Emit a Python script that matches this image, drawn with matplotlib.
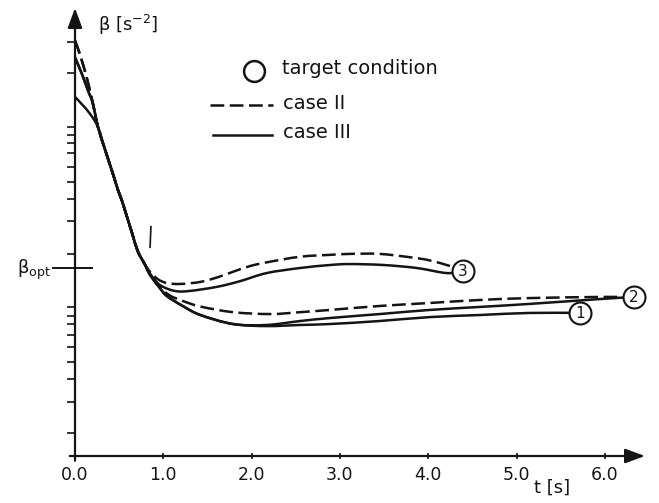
import matplotlib
matplotlib.use("Agg")
import matplotlib.pyplot as plt
import numpy as np
from matplotlib.lines import Line2D
from matplotlib.path import Path
from matplotlib.patches import PathPatch

plt.rcParams["font.family"] = ["DejaVu Sans"]

# time axis [s]
t_ticks = [0, 1, 2, 3, 4, 5, 6]
t_tick_labels = ["0.0", "1.0", "2.0", "3.0", "4.0", "5.0", "6.0"]

# beta axis, in units of beta_opt (unlabelled graduation marks)
beta_opt = 1.0
beta_ticks = [2.202, 2.037, 1.750, 1.707, 1.665, 1.612, 1.537, 1.457, 1.367,
              1.250, 1.074, 0.793, 0.745, 0.702, 0.644, 0.580, 0.500, 0.410,
              0.287, 0.122]

# case II (dashed), run to target 3
t_II_3 = [0, 0.06, 0.14, 0.20, 0.26, 0.34, 0.43, 0.49, 0.53, 0.59, 0.65, 0.71,
          0.79, 0.85, 0.94, 1.04, 1.19, 1.42, 1.61, 1.79, 1.98, 2.17, 2.55,
          2.89, 3.11, 3.45, 3.83, 4.02, 4.25, 4.39]
b_II_3 = [2.21, 2.13, 2.00, 1.88, 1.75, 1.63, 1.50, 1.41, 1.36, 1.27, 1.18, 1.09,
          1.02, 0.98, 0.94, 0.92, 0.915, 0.926, 0.95, 0.98, 1.01, 1.03, 1.06,
          1.07, 1.075, 1.075, 1.055, 1.04, 1.01, 0.985]

# case II (dashed), run to target 2
t_II_2 = [0, 0.06, 0.14, 0.20, 0.26, 0.34, 0.43, 0.49, 0.53, 0.59, 0.65, 0.71,
          0.79, 0.85, 0.96, 1.07, 1.22, 1.42, 1.79, 2.21, 2.55, 2.89, 3.45,
          4.02, 4.59, 5.15, 5.95, 6.33]
b_II_2 = [2.21, 2.13, 2.00, 1.88, 1.75, 1.63, 1.50, 1.41, 1.36, 1.27, 1.18, 1.09,
          1.02, 0.97, 0.90, 0.855, 0.825, 0.795, 0.765, 0.755, 0.765, 0.777,
          0.798, 0.814, 0.83, 0.84, 0.846, 0.846]

# case III (solid), run to target 3
t_III_3 = [0, 0.08, 0.17, 0.26, 0.34, 0.43, 0.49, 0.53, 0.59, 0.65, 0.71, 0.79,
           0.85, 0.96, 1.13, 1.30, 1.61, 1.87, 2.17, 2.55, 2.89, 3.11, 3.49,
           3.87, 4.21, 4.39]
b_III_3 = [1.91, 1.87, 1.82, 1.75, 1.63, 1.50, 1.41, 1.36, 1.27, 1.18, 1.09, 1.02,
           0.97, 0.91, 0.878, 0.878, 0.90, 0.93, 0.973, 1.00, 1.016, 1.021,
           1.016, 1.00, 0.973, 0.984]

# case III (solid), run to target 2
t_III_2 = [0, 0.08, 0.15, 0.20, 0.26, 0.34, 0.43, 0.49, 0.53, 0.59, 0.65, 0.71,
           0.79, 0.85, 0.96, 1.04, 1.22, 1.42, 1.79, 2.17, 2.55, 2.89, 3.45,
           4.02, 4.59, 5.15, 5.95, 6.33]
b_III_2 = [2.12, 2.03, 1.94, 1.88, 1.75, 1.63, 1.50, 1.41, 1.36, 1.27, 1.18, 1.09,
           1.02, 0.963, 0.894, 0.851, 0.798, 0.750, 0.702, 0.697, 0.718, 0.734,
           0.755, 0.777, 0.793, 0.809, 0.835, 0.846]

# case III (solid), run to target 1
t_III_1 = [0, 0.08, 0.15, 0.20, 0.26, 0.34, 0.43, 0.49, 0.53, 0.59, 0.65, 0.71,
           0.79, 0.85, 0.96, 1.04, 1.22, 1.42, 1.79, 2.17, 2.55, 2.89, 3.45,
           4.02, 4.59, 5.15, 5.72]
b_III_1 = [2.12, 2.03, 1.94, 1.88, 1.75, 1.63, 1.50, 1.41, 1.36, 1.27, 1.18, 1.09,
           1.02, 0.963, 0.894, 0.851, 0.798, 0.750, 0.702, 0.691, 0.697, 0.702,
           0.718, 0.739, 0.750, 0.761, 0.761]

# target conditions
target_names = ["1", "2", "3"]
target_t = [5.72, 6.33, 4.39]
target_b = [0.761, 0.846, 0.984]

INK = "#141414"
W, H = 659, 503
fig = plt.figure(figsize=(W / 100, H / 100), dpi=100)
fig.patch.set_facecolor("white")

x0, y0, x1, y1 = 75, 456, 645, 8          # plot frame in pixels
ax = fig.add_axes([x0 / W, 1 - y0 / H, (x1 - x0) / W, (y0 - y1) / H])
px_per_s = 88.3
px_per_beta = 188.0
ax.set_xlim(0, (x1 - x0) / px_per_s)
ax.set_ylim(0, (y0 - y1) / px_per_beta)
ax.patch.set_alpha(0)
for s in ax.spines.values():
    s.set_visible(False)


def smooth_curve(ts, bs, **kw):
    """Draw a smooth Bezier (Catmull-Rom) curve through the given points."""
    p = np.column_stack([ts, bs]).astype(float)
    n = len(p)
    verts = [p[0]]
    codes = [Path.MOVETO]
    for i in range(n - 1):
        pa = p[i - 1] if i > 0 else p[i]
        pb, pc = p[i], p[i + 1]
        pd = p[i + 2] if i + 2 < n else p[i + 1]
        verts += [pb + (pc - pa) / 6.0, pc - (pd - pb) / 6.0, pc]
        codes += [Path.CURVE4] * 3
    patch = PathPatch(Path(verts, codes), fill=False, **kw)
    ax.add_patch(patch)
    return patch


dash = (5.5, 2.2)
lw = 1.8
smooth_curve(t_II_3, b_II_3, edgecolor=INK, lw=lw, linestyle=(0, dash))
smooth_curve(t_II_2, b_II_2, edgecolor=INK, lw=lw, linestyle=(0, dash))
smooth_curve(t_III_3, b_III_3, edgecolor=INK, lw=lw)
smooth_curve(t_III_2, b_III_2, edgecolor=INK, lw=lw)
smooth_curve(t_III_1, b_III_1, edgecolor=INK, lw=lw)

for name, tt, bb in zip(target_names, target_t, target_b):
    ax.plot([tt], [bb], marker="o", ms=15.8, mfc="white", mec=INK, mew=1.5,
            zorder=5, clip_on=False)
    ax.text(tt, bb - 0.004, name, ha="center", va="center", fontsize=11,
            color=INK, zorder=6)

# axes with arrow heads
arrow = dict(arrowstyle="-|>,head_length=0.6,head_width=0.22", lw=1.6,
             color=INK, mutation_scale=20, shrinkA=0, shrinkB=0)
ax.annotate("", xy=(ax.get_xlim()[1], 0), xytext=(-0.06, 0),
            arrowprops=arrow, annotation_clip=False)
ax.annotate("", xy=(0, ax.get_ylim()[1]), xytext=(0, -0.025),
            arrowprops=arrow, annotation_clip=False)

ax.set_xticks(t_ticks)
ax.set_xticklabels(t_tick_labels, fontsize=12.5, color=INK)
ax.tick_params(axis="x", direction="inout", length=5, width=1.2, pad=5,
               colors=INK)
ax.set_yticks(beta_ticks)
ax.tick_params(axis="y", direction="out", length=6, width=1.2,
               labelleft=False, colors=INK)

# beta_opt marker on the ordinate
ax.plot([-0.25, 0.19], [beta_opt, beta_opt], color=INK, lw=1.4, clip_on=False)
ax.text(-0.27, beta_opt - 0.01, "β$_{\\mathrm{opt}}$", ha="right", va="center",
        fontsize=13, color=INK)

# short stroke near t = 0.85
ax.plot([0.86, 0.85], [1.22, 1.11], color=INK, lw=1.2)

# axis titles
fig.text(128 / W, 1 - 25 / H, "β [s$^{-2}$]", ha="center", va="center",
         fontsize=13, color=INK)
fig.text(552 / W, 1 - 488 / H, "t [s]", ha="center", va="center",
         fontsize=13, color=INK)

# key
fig.add_artist(Line2D([254 / W], [1 - 71 / H], marker="o", ms=15, mfc="white",
                      mec=INK, mew=1.8, transform=fig.transFigure))
fig.text(282 / W, 1 - 68 / H, "target condition", ha="left", va="center",
         fontsize=14, color=INK)
fig.add_artist(Line2D([210 / W, 273 / W], [1 - 105 / H, 1 - 105 / H],
                      color=INK, lw=lw, dashes=dash, transform=fig.transFigure))
fig.text(283 / W, 1 - 103 / H, "case II", ha="left", va="center",
         fontsize=14, color=INK)
fig.add_artist(Line2D([213 / W, 272 / W], [1 - 135 / H, 1 - 135 / H],
                      color=INK, lw=lw, transform=fig.transFigure))
fig.text(283 / W, 1 - 132 / H, "case III", ha="left", va="center",
         fontsize=14, color=INK)

fig.savefig("out.png", dpi=100, facecolor="white")
